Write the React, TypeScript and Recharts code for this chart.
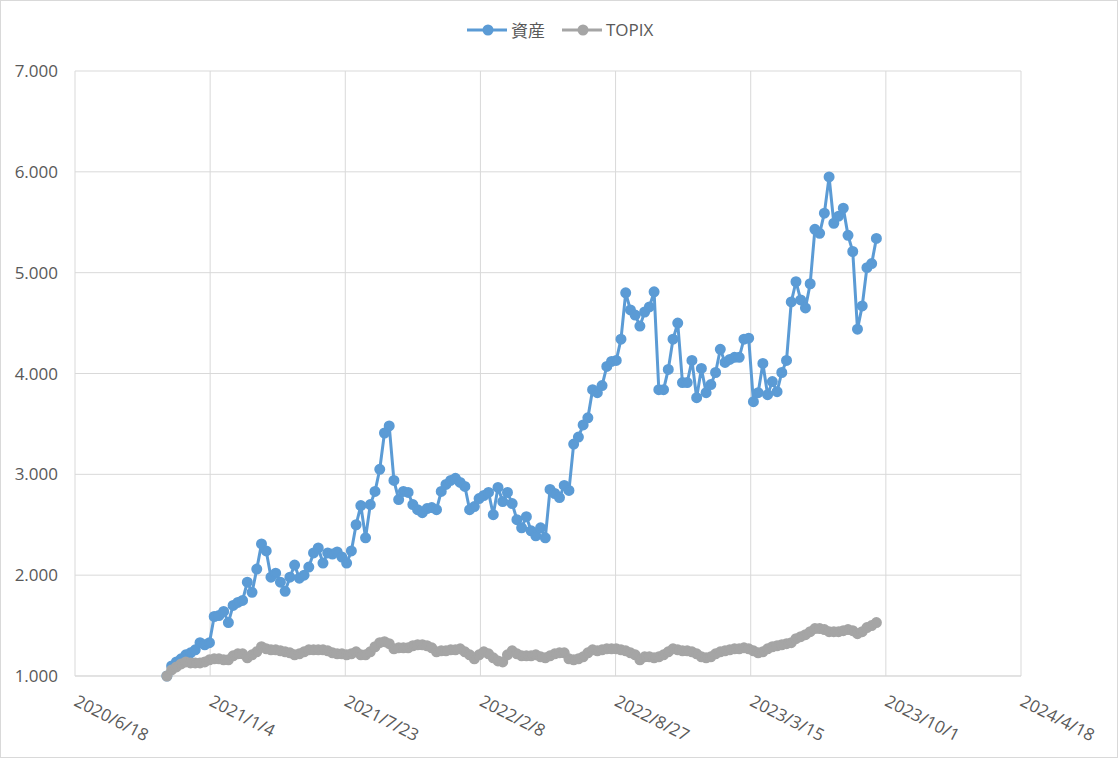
import React from 'react';
import { LineChart, Line, XAxis, YAxis, CartesianGrid } from 'recharts';

// weekly observation dates
const DATES = [
  '2020/11/1', '2020/11/8', '2020/11/15', '2020/11/22', '2020/11/29', '2020/12/6', '2020/12/13', '2020/12/20', '2020/12/27',
  '2021/1/3', '2021/1/10', '2021/1/17', '2021/1/24', '2021/1/31', '2021/2/7', '2021/2/14', '2021/2/21', '2021/2/28',
  '2021/3/7', '2021/3/14', '2021/3/21', '2021/3/28', '2021/4/4', '2021/4/11', '2021/4/18', '2021/4/25', '2021/5/2',
  '2021/5/9', '2021/5/16', '2021/5/23', '2021/5/30', '2021/6/6', '2021/6/13', '2021/6/20', '2021/6/27', '2021/7/4',
  '2021/7/11', '2021/7/18', '2021/7/25', '2021/8/1', '2021/8/8', '2021/8/15', '2021/8/22', '2021/8/29', '2021/9/5',
  '2021/9/12', '2021/9/19', '2021/9/26', '2021/10/3', '2021/10/10', '2021/10/17', '2021/10/24', '2021/10/31', '2021/11/7',
  '2021/11/14', '2021/11/21', '2021/11/28', '2021/12/5', '2021/12/12', '2021/12/19', '2021/12/26',
  '2022/1/2', '2022/1/9', '2022/1/16', '2022/1/23', '2022/1/30', '2022/2/6', '2022/2/13', '2022/2/20', '2022/2/27',
  '2022/3/6', '2022/3/13', '2022/3/20', '2022/3/27', '2022/4/3', '2022/4/10', '2022/4/17', '2022/4/24', '2022/5/1',
  '2022/5/8', '2022/5/15', '2022/5/22', '2022/5/29', '2022/6/5', '2022/6/12', '2022/6/19', '2022/6/26', '2022/7/3',
  '2022/7/10', '2022/7/17', '2022/7/24', '2022/7/31', '2022/8/7', '2022/8/14', '2022/8/21', '2022/8/28', '2022/9/4',
  '2022/9/11', '2022/9/18', '2022/9/25', '2022/10/2', '2022/10/9', '2022/10/16', '2022/10/23', '2022/10/30', '2022/11/6',
  '2022/11/13', '2022/11/20', '2022/11/27', '2022/12/4', '2022/12/11', '2022/12/18', '2022/12/25',
  '2023/1/1', '2023/1/8', '2023/1/15', '2023/1/22', '2023/1/29', '2023/2/5', '2023/2/12', '2023/2/19', '2023/2/26',
  '2023/3/5', '2023/3/12', '2023/3/19', '2023/3/26', '2023/4/2', '2023/4/9', '2023/4/16', '2023/4/23', '2023/4/30',
  '2023/5/7', '2023/5/14', '2023/5/21', '2023/5/28', '2023/6/4', '2023/6/11', '2023/6/18', '2023/6/25', '2023/7/2',
  '2023/7/9', '2023/7/16', '2023/7/23', '2023/7/30', '2023/8/6', '2023/8/13', '2023/8/20', '2023/8/27', '2023/9/3',
  '2023/9/10', '2023/9/17',
];

const ASSET = [
  1.00, 1.10, 1.14, 1.17, 1.21, 1.23, 1.26, 1.33, 1.31, 1.33,
  1.59, 1.60, 1.64, 1.53, 1.70, 1.73, 1.75, 1.93, 1.83, 2.06,
  2.31, 2.24, 1.98, 2.02, 1.93, 1.84, 1.98, 2.10, 1.97, 2.00,
  2.08, 2.22, 2.27, 2.12, 2.22, 2.21, 2.23, 2.18, 2.12, 2.24,
  2.50, 2.69, 2.37, 2.70, 2.83, 3.05, 3.41, 3.48, 2.94, 2.75,
  2.83, 2.82, 2.70, 2.65, 2.62, 2.66, 2.67, 2.65, 2.83, 2.90,
  2.94, 2.96, 2.92, 2.88, 2.65, 2.68, 2.76, 2.79, 2.82, 2.60,
  2.87, 2.73, 2.82, 2.71, 2.55, 2.47, 2.58, 2.44, 2.39, 2.47,
  2.37, 2.85, 2.81, 2.77, 2.89, 2.84, 3.30, 3.37, 3.49, 3.56,
  3.84, 3.81, 3.88, 4.07, 4.12, 4.13, 4.34, 4.80, 4.63, 4.58,
  4.47, 4.61, 4.66, 4.81, 3.84, 3.84, 4.04, 4.34, 4.50, 3.91,
  3.91, 4.13, 3.76, 4.05, 3.81, 3.89, 4.01, 4.24, 4.11, 4.14,
  4.16, 4.16, 4.34, 4.35, 3.72, 3.81, 4.10, 3.79, 3.92, 3.82,
  4.01, 4.13, 4.71, 4.91, 4.73, 4.65, 4.89, 5.43, 5.39, 5.59,
  5.95, 5.49, 5.56, 5.64, 5.37, 5.21, 4.44, 4.67, 5.05, 5.09,
  5.34,
];

const TOPIX = [
  1.00, 1.06, 1.09, 1.12, 1.14, 1.13, 1.13, 1.13, 1.14, 1.16,
  1.17, 1.17, 1.16, 1.16, 1.20, 1.22, 1.22, 1.18, 1.21, 1.24,
  1.29, 1.27, 1.26, 1.26, 1.25, 1.24, 1.23, 1.21, 1.22, 1.24,
  1.26, 1.26, 1.26, 1.26, 1.25, 1.23, 1.22, 1.22, 1.21, 1.22,
  1.24, 1.21, 1.21, 1.24, 1.29, 1.33, 1.34, 1.32, 1.27, 1.28,
  1.28, 1.28, 1.30, 1.31, 1.31, 1.30, 1.28, 1.24, 1.25, 1.25,
  1.26, 1.26, 1.27, 1.24, 1.21, 1.17, 1.21, 1.24, 1.22, 1.18,
  1.15, 1.14, 1.21, 1.25, 1.22, 1.20, 1.20, 1.20, 1.21, 1.19,
  1.18, 1.20, 1.22, 1.23, 1.23, 1.17, 1.16, 1.17, 1.19, 1.23,
  1.26, 1.25, 1.26, 1.27, 1.27, 1.27, 1.26, 1.25, 1.23, 1.21,
  1.16, 1.19, 1.19, 1.18, 1.19, 1.21, 1.24, 1.27, 1.26, 1.25,
  1.25, 1.24, 1.22, 1.19, 1.18, 1.19, 1.22, 1.24, 1.25, 1.26,
  1.27, 1.27, 1.28, 1.27, 1.25, 1.23, 1.24, 1.27, 1.29, 1.30,
  1.31, 1.32, 1.33, 1.37, 1.39, 1.41, 1.44, 1.47, 1.47, 1.46,
  1.44, 1.44, 1.44, 1.45, 1.46, 1.45, 1.42, 1.44, 1.48, 1.50,
  1.53,
];

const X_TICKS = ['2020/6/18', '2021/1/4', '2021/7/23', '2022/2/8', '2022/8/27', '2023/3/15', '2023/10/1', '2024/4/18'];
const Y_TICKS = [1, 2, 3, 4, 5, 6, 7];

const BLUE = '#5b9bd5';
const GRAY = '#a5a5a5';
const TEXT = '#595959';
const GRID = '#d9d9d9';
const FONT = "'Open Sans', 'Noto Sans CJK JP', sans-serif";

const toTime = (s: string) => {
  const [y, m, d] = s.split('/').map(Number);
  return Date.UTC(y, m - 1, d);
};

const fmtDate = (t: number) => {
  const d = new Date(t);
  return `${d.getUTCFullYear()}/${d.getUTCMonth() + 1}/${d.getUTCDate()}`;
};

const data = DATES.map((d, i) => ({ t: toTime(d), asset: ASSET[i], topix: TOPIX[i] }));
const xTicks = X_TICKS.map(toTime);

const DateTick = (props: any) => {
  const { x, y, payload } = props;
  return (
    <g transform={`translate(${x - 2},${y + 21})`}>
      <text x={0} y={0} transform="rotate(27)" textAnchor="start" fill={TEXT} fontSize={17} fontFamily={FONT}>
        {fmtDate(payload.value)}
      </text>
    </g>
  );
};

const LegendItem = ({ color, label }: { color: string; label: string }) => (
  <div style={{ display: 'flex', alignItems: 'center', gap: 4 }}>
    <svg width={40} height={12}>
      <line x1={0} y1={6} x2={40} y2={6} stroke={color} strokeWidth={3} />
      <circle cx={21} cy={6} r={5.5} fill={color} />
    </svg>
    <span style={{ color: TEXT, fontSize: 17, fontFamily: FONT }}>{label}</span>
  </div>
);

export default function App() {
  return (
    <div style={{ position: 'absolute', left: 0, top: 0, width: 1118, height: 758, background: '#fff' }}>
      <LineChart width={1118} height={758} data={data} margin={{ top: 71, right: 97, bottom: 0, left: 0 }}>
        <CartesianGrid stroke={GRID} strokeWidth={1} />
        <XAxis
          dataKey="t"
          type="number"
          domain={[xTicks[0], xTicks[xTicks.length - 1]]}
          ticks={xTicks}
          tick={<DateTick />}
          tickLine={false}
          axisLine={{ stroke: GRID }}
          height={82}
          interval={0}
        />
        <YAxis
          type="number"
          domain={[1, 7]}
          ticks={Y_TICKS}
          tickFormatter={(v: number) => v.toFixed(3)}
          tick={{ fill: TEXT, fontSize: 17, fontFamily: FONT }}
          tickLine={false}
          axisLine={false}
          tickSize={0}
          tickMargin={17}
          width={75}
          interval={0}
        />
        <Line
          dataKey="asset"
          stroke={BLUE}
          strokeWidth={3}
          dot={{ r: 4.5, fill: BLUE, stroke: BLUE, strokeWidth: 2 }}
          activeDot={false}
          isAnimationActive={false}
        />
        <Line
          dataKey="topix"
          stroke={GRAY}
          strokeWidth={3}
          dot={{ r: 4.5, fill: GRAY, stroke: GRAY, strokeWidth: 2 }}
          activeDot={false}
          isAnimationActive={false}
        />
      </LineChart>
      <div style={{ position: 'absolute', left: 467, top: 17, display: 'flex', gap: 17, alignItems: 'center' }}>
        <LegendItem color={BLUE} label="資産" />
        <LegendItem color={GRAY} label="TOPIX" />
      </div>
      <div
        style={{
          position: 'absolute',
          left: 0,
          top: 0,
          width: 1118,
          height: 758,
          boxSizing: 'border-box',
          border: `1px solid ${GRID}`,
          pointerEvents: 'none',
        }}
      />
    </div>
  );
}
